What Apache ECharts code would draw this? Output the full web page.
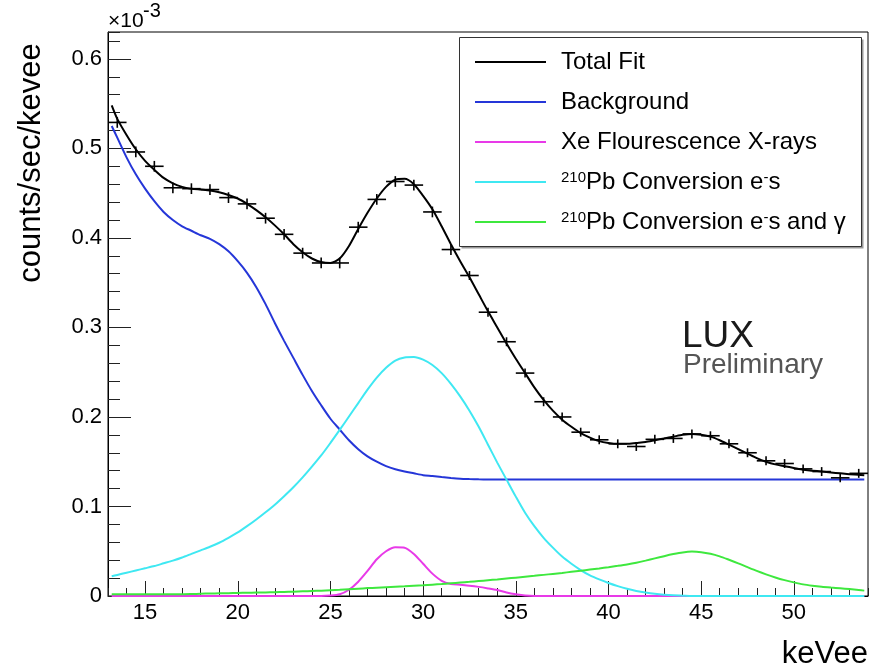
<!DOCTYPE html>
<html>
<head>
<meta charset="utf-8">
<script src="https://cdn.jsdelivr.net/npm/echarts@6/dist/echarts.min.js"></script>
<style>
html,body{margin:0;padding:0;background:#fff;}
#chart{width:873px;height:669px;}
</style>
</head>
<body>
<div id="chart"></div>
<script>
// Values in units of 1e-3 counts/sec/kevee
const fitX = [13.2, 13.5, 14, 14.5, 15, 15.5, 16, 16.5, 17, 17.5,
  18, 18.5, 19, 19.5, 20, 20.5, 21, 21.5, 22, 22.5,
  23, 23.5, 24, 24.5, 25, 25.5, 26, 26.5, 27, 27.5,
  28, 28.5, 29, 29.5, 30, 30.5, 31, 31.5, 32, 32.5,
  33, 33.5, 34, 34.5, 35, 35.5, 36, 36.5, 37, 37.5,
  38, 38.5, 39, 39.5, 40, 40.5, 41, 41.5, 42, 42.5,
  43, 43.5, 44, 44.5, 45, 45.5, 46, 46.5, 47, 47.5,
  48, 48.5, 49, 49.5, 50, 50.5, 51, 51.5, 52, 52.5,
  53, 53.5, 53.8];

const totalFit = [0.548, 0.533, 0.515, 0.499, 0.486, 0.476, 0.467, 0.461, 0.457, 0.455,
  0.454, 0.453, 0.451, 0.448, 0.444, 0.438, 0.431, 0.423, 0.414, 0.404,
  0.393, 0.384, 0.377, 0.373, 0.372, 0.377, 0.391, 0.410, 0.428, 0.444,
  0.457, 0.465, 0.466, 0.460, 0.447, 0.432, 0.413, 0.393, 0.374, 0.356,
  0.337, 0.318, 0.300, 0.282, 0.265, 0.249, 0.233, 0.219, 0.207, 0.197,
  0.189, 0.182, 0.177, 0.173, 0.171, 0.170, 0.170, 0.171, 0.172, 0.174,
  0.176, 0.178, 0.180, 0.181, 0.180, 0.178, 0.174, 0.169, 0.164, 0.159,
  0.154, 0.150, 0.147, 0.145, 0.143, 0.141, 0.140, 0.139, 0.138, 0.137,
  0.136, 0.1355, 0.135];

const background = [0.525, 0.512, 0.490, 0.471, 0.455, 0.441, 0.429, 0.420, 0.413, 0.408,
  0.403, 0.399, 0.393, 0.385, 0.374, 0.361, 0.345, 0.326, 0.305, 0.285,
  0.266, 0.247, 0.229, 0.213, 0.198, 0.186, 0.174, 0.164, 0.156, 0.150,
  0.145, 0.1415, 0.139, 0.137, 0.135, 0.134, 0.1328, 0.1318, 0.131, 0.1306,
  0.1303, 0.1301, 0.130, 0.130, 0.130, 0.130, 0.130, 0.130, 0.130, 0.130,
  0.130, 0.130, 0.130, 0.130, 0.130, 0.130, 0.130, 0.130, 0.130, 0.130,
  0.130, 0.130, 0.130, 0.130, 0.130, 0.130, 0.130, 0.130, 0.130, 0.130,
  0.130, 0.130, 0.130, 0.130, 0.130, 0.130, 0.130, 0.130, 0.130, 0.130,
  0.130, 0.130, 0.130];

const xeXrays = [0, 0, 0, 0, 0, 0, 0, 0, 0, 0,
  0, 0, 0, 0, 0, 0, 0, 0, 0, 0,
  0, 0, 0, 0, 0.0005, 0.002, 0.007, 0.016, 0.028, 0.041,
  0.050, 0.0545, 0.054, 0.047, 0.036, 0.025, 0.017, 0.0135, 0.0125, 0.0115,
  0.0102, 0.0085, 0.0066, 0.004, 0.002, 0.0005, 0, 0, 0, 0,
  0, 0, 0, 0, 0, 0, 0, 0, 0, 0,
  0, 0, 0, 0, 0, 0, 0, 0, 0, 0,
  0, 0, 0, 0, 0, 0, 0, 0, 0, 0,
  0, 0, 0];

const pbConvE = [0.022, 0.0235, 0.026, 0.0285, 0.031, 0.0335, 0.0365, 0.0395, 0.043, 0.047,
  0.051, 0.055, 0.0595, 0.065, 0.071, 0.078, 0.0855, 0.0935, 0.102, 0.1115,
  0.1215, 0.1325, 0.1445, 0.157, 0.171, 0.1855, 0.2005, 0.2155, 0.2305, 0.244,
  0.255, 0.263, 0.2665, 0.267, 0.264, 0.258, 0.249, 0.237, 0.223, 0.207,
  0.189, 0.169, 0.149, 0.130, 0.111, 0.093, 0.078, 0.065, 0.054, 0.044,
  0.036, 0.029, 0.023, 0.0185, 0.0145, 0.011, 0.008, 0.0057, 0.0039, 0.0025,
  0.0015, 0.0008, 0.0004, 0, 0, 0, 0, 0, 0, 0,
  0, 0, 0, 0, 0, 0, 0, 0, 0, 0,
  0, 0, 0];

const pbConvEGamma = [0.002, 0.002, 0.002, 0.002, 0.002, 0.002, 0.002, 0.002, 0.002, 0.0022,
  0.0025, 0.0028, 0.003, 0.0032, 0.0034, 0.0036, 0.0038, 0.004, 0.0042, 0.0045,
  0.0048, 0.0052, 0.0056, 0.006, 0.0065, 0.007, 0.0076, 0.0082, 0.0088, 0.0093,
  0.0098, 0.0103, 0.0108, 0.0114, 0.012, 0.0127, 0.0134, 0.0142, 0.015, 0.0158,
  0.0167, 0.0176, 0.0185, 0.0195, 0.0205, 0.0215, 0.0225, 0.0236, 0.0247, 0.0258,
  0.027, 0.0282, 0.0295, 0.0308, 0.0322, 0.0337, 0.0353, 0.0372, 0.0395, 0.042,
  0.0445, 0.0468, 0.0487, 0.0496, 0.049, 0.0472, 0.0443, 0.0405, 0.0365, 0.0322,
  0.028, 0.0242, 0.0207, 0.0177, 0.0152, 0.013, 0.0115, 0.0103, 0.0094, 0.0086,
  0.0077, 0.0067, 0.006];

// Histogram data points (bin centres, rate, error)
const binCenters = [13.5, 14.5, 15.5, 16.5, 17.5, 18.5, 19.5, 20.5, 21.5, 22.5,
  23.5, 24.5, 25.5, 26.5, 27.5, 28.5, 29.5, 30.5, 31.5, 32.5,
  33.5, 34.5, 35.5, 36.5, 37.5, 38.5, 39.5, 40.5, 41.5, 42.5,
  43.5, 44.5, 45.5, 46.5, 47.5, 48.5, 49.5, 50.5, 51.5, 52.5,
  53.5];
const rates = [0.529, 0.496, 0.480, 0.456, 0.455, 0.454, 0.445, 0.438, 0.422, 0.404,
  0.383, 0.372, 0.372, 0.412, 0.443, 0.463, 0.459, 0.429, 0.387, 0.358,
  0.317, 0.284, 0.249, 0.217, 0.200, 0.183, 0.1745, 0.170, 0.167, 0.175,
  0.176, 0.181, 0.179, 0.170, 0.160, 0.151, 0.148, 0.142, 0.139, 0.132,
  0.137];
const rateErrors = [0.006, 0.006, 0.006, 0.006, 0.006, 0.006, 0.006, 0.006, 0.006, 0.006,
  0.006, 0.006, 0.006, 0.006, 0.006, 0.006, 0.006, 0.006, 0.006, 0.005,
  0.005, 0.005, 0.005, 0.005, 0.005, 0.005, 0.005, 0.005, 0.005, 0.005,
  0.005, 0.005, 0.005, 0.005, 0.005, 0.005, 0.005, 0.005, 0.005, 0.005,
  0.005];
const binWidth = 1;

const seriesNames = ['Total Fit', 'Background', 'Xe Flourescence X-rays',
  '210Pb Conversion e-s', '210Pb Conversion e-s and γ'];
const legendLabels = {
  'Total Fit': 'Total Fit',
  'Background': 'Background',
  'Xe Flourescence X-rays': 'Xe Flourescence X-rays',
  '210Pb Conversion e-s': '{sup|210}Pb Conversion e{sup|-}s',
  '210Pb Conversion e-s and γ': '{sup|210}Pb Conversion e{sup|-}s and γ'
};
const yTickLabels = ['0', '0.1', '0.2', '0.3', '0.4', '0.5', '0.6'];

const FONT = 'Liberation Sans, Arial, Helvetica, sans-serif';
const zip = (xs, ys) => xs.map((x, i) => [x, ys[i]]);

const chart = echarts.init(document.getElementById('chart'), null, {renderer: 'canvas'});

function lineSeries(name, values, color) {
  return {
    name: name, type: 'line', data: zip(fitX, values), color: color,
    showSymbol: false, symbol: 'none', smooth: 0.25,
    lineStyle: {color: color, width: 2}, z: 3, silent: true
  };
}

const option = {
  animation: false,
  backgroundColor: '#fff',
  grid: {left: 108, right: 5, top: 32, bottom: 73, show: true, borderColor: '#000', borderWidth: 1},
  xAxis: [{
    type: 'value', min: 13, max: 54, splitNumber: 8,
    axisLine: {show: true, lineStyle: {color: '#000', width: 1}},
    axisTick: {show: true, inside: true, length: 15, lineStyle: {color: '#222', width: 1}},
    axisLabel: {show: true, fontSize: 22, color: '#000', fontFamily: FONT, margin: 6,
      showMinLabel: false, showMaxLabel: false},
    splitLine: {show: false}
  }, {
    type: 'value', min: 13, max: 54, interval: 1, position: 'bottom',
    axisLine: {show: false},
    axisTick: {show: true, inside: true, length: 8, lineStyle: {color: '#222', width: 1}},
    axisLabel: {show: false}, splitLine: {show: false}
  }],
  yAxis: [{
    type: 'value', min: 0, max: 0.63, interval: 0.1,
    axisLine: {show: true, lineStyle: {color: '#000', width: 1}},
    axisTick: {show: true, inside: true, length: 23, lineStyle: {color: '#222', width: 1}},
    axisLabel: {show: true, fontSize: 22, color: '#000', fontFamily: FONT, margin: 6,
      showMaxLabel: false,
      formatter: function (v) {
        const i = Math.round(v * 10);
        return Math.abs(v * 10 - i) < 1e-6 && i >= 0 && i < yTickLabels.length ? yTickLabels[i] : '';
      }},
    splitLine: {show: false}
  }, {
    type: 'value', min: 0, max: 0.63, interval: 0.02, position: 'left',
    axisLine: {show: false},
    axisTick: {show: true, inside: true, length: 12, lineStyle: {color: '#222', width: 1}},
    axisLabel: {show: false}, splitLine: {show: false}
  }],
  legend: {
    data: seriesNames, orient: 'vertical', left: 475, top: 50,
    padding: 0, itemGap: 16, itemWidth: 71, itemHeight: 2, icon: 'rect',
    selectedMode: false, z: 10,
    formatter: function (name) { return legendLabels[name]; },
    textStyle: {
      fontFamily: FONT, fontSize: 24, color: '#000', lineHeight: 24, padding: [0, 0, 0, 10],
      rich: {sup: {fontFamily: FONT, fontSize: 15, lineHeight: 16, verticalAlign: 'top', color: '#000'}}
    }
  },
  graphic: [
    {type: 'rect', z: 5, shape: {x: 461.5, y: 39.5, width: 402, height: 209}, style: {fill: '#999', stroke: null}},
    {type: 'rect', z: 6, shape: {x: 459.5, y: 37.5, width: 402, height: 209}, style: {fill: '#fff', stroke: '#333', lineWidth: 1}},
    {type: 'text', z: 6, x: 108, y: 21, style: {text: '×10', font: '21px ' + FONT, fill: '#000', verticalAlign: 'middle', align: 'left'}},
    {type: 'text', z: 6, x: 143, y: 11, style: {text: '-3', font: '20px ' + FONT, fill: '#000', verticalAlign: 'middle', align: 'left'}},
    {type: 'text', z: 6, x: 31, y: 163, rotation: Math.PI / 2, style: {text: 'counts/sec/kevee', font: '31px ' + FONT, fill: '#000', verticalAlign: 'middle', align: 'center'}},
    {type: 'text', z: 6, x: 868, y: 654, style: {text: 'keVee', font: '31px ' + FONT, fill: '#000', verticalAlign: 'middle', align: 'right'}},
    {type: 'text', z: 6, x: 682, y: 337, style: {text: 'LUX', font: '37px ' + FONT, fill: '#1a1a1a', verticalAlign: 'middle', align: 'left'}},
    {type: 'text', z: 6, x: 683, y: 365, style: {text: 'Preliminary', font: '28px ' + FONT, fill: '#555', verticalAlign: 'middle', align: 'left'}}
  ],
  series: [
    {
      name: 'Data', type: 'custom', xAxisIndex: 0, yAxisIndex: 0, z: 4, silent: true,
      data: binCenters.map((x, i) => [x, rates[i], rateErrors[i]]),
      encode: {x: 0, y: 1},
      renderItem: function (params, api) {
        const x = api.value(0), y = api.value(1), e = api.value(2);
        const l = api.coord([x - binWidth / 2, y]);
        const r = api.coord([x + binWidth / 2, y]);
        const t = api.coord([x, y + e]);
        const b = api.coord([x, y - e]);
        return {type: 'group', children: [
          {type: 'line', shape: {x1: l[0], y1: l[1], x2: r[0], y2: r[1]}, style: {stroke: '#000', lineWidth: 1.6}},
          {type: 'line', shape: {x1: t[0], y1: t[1], x2: b[0], y2: b[1]}, style: {stroke: '#000', lineWidth: 1.6}}
        ]};
      }
    },
    lineSeries('Total Fit', totalFit, '#000000'),
    lineSeries('Background', background, '#2536d8'),
    lineSeries('Xe Flourescence X-rays', xeXrays, '#e83ae8'),
    lineSeries('210Pb Conversion e-s', pbConvE, '#3fe8f2'),
    lineSeries('210Pb Conversion e-s and γ', pbConvEGamma, '#3ee83e')
  ]
};
chart.setOption(option);
</script>
</body>
</html>
